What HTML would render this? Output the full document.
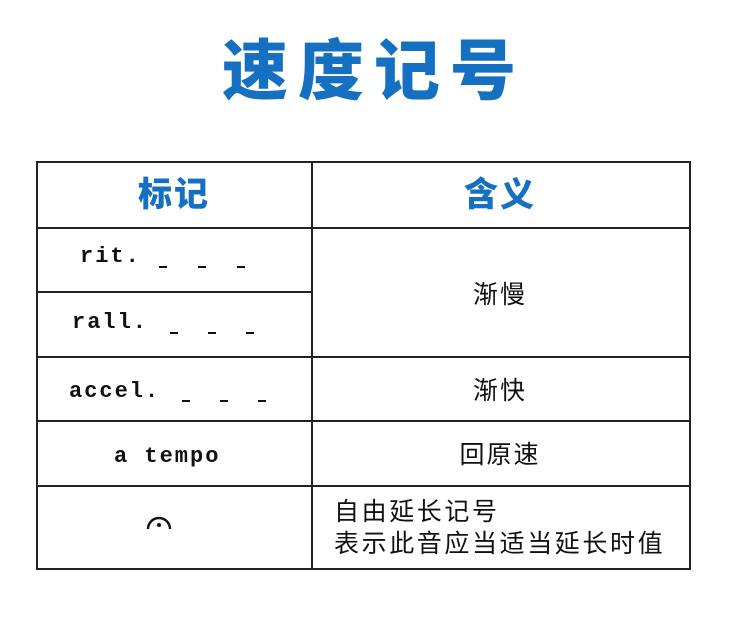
<!DOCTYPE html>
<html><head><meta charset="utf-8"><style>
body{margin:0;width:743px;height:618px;background:#fff;position:relative;overflow:hidden;font-family:"Liberation Sans","Noto Sans CJK SC",sans-serif}
.t{position:absolute;white-space:nowrap}
.title{left:222px;top:26px;font-size:66px;font-weight:900;color:#1670c2;letter-spacing:10px;line-height:80px;font-family:"Noto Sans CJK SC",sans-serif}
.hl{position:absolute;background:#222;height:2px}
.vl{position:absolute;background:#222;width:2px}
.d{position:absolute;background:#111;height:2px;width:8px}
.h{font-size:34px;font-weight:900;color:#1670c2;font-family:"Noto Sans CJK SC",sans-serif;transform:translateX(-50%);line-height:40px;letter-spacing:2px}
.m{font-family:"Liberation Mono",monospace;font-size:22px;font-weight:bold;color:#111;line-height:30px;letter-spacing:2px}
.c{font-size:25px;color:#111;font-family:"Noto Sans CJK SC",sans-serif;transform:translateX(-50%);line-height:30px;letter-spacing:2px}
</style></head><body>
<div class="t title">速度记号</div>
<div class="hl" style="left:36px;top:161px;width:655px"></div>
<div class="hl" style="left:36px;top:227px;width:655px"></div>
<div class="hl" style="left:36px;top:291px;width:277px"></div>
<div class="hl" style="left:36px;top:356px;width:655px"></div>
<div class="hl" style="left:36px;top:420px;width:655px"></div>
<div class="hl" style="left:36px;top:485px;width:655px"></div>
<div class="hl" style="left:36px;top:568px;width:655px"></div>
<div class="vl" style="left:36px;top:161px;height:409px"></div>
<div class="vl" style="left:311px;top:161px;height:409px"></div>
<div class="vl" style="left:689px;top:161px;height:409px"></div>
<div class="t h" style="left:174px;top:172px">标记</div>
<div class="t h" style="left:500px;top:172px">含义</div>
<div class="t m" style="left:80px;top:242px">rit.</div>
<div class="d" style="left:159px;top:266px"></div><div class="d" style="left:198px;top:266px"></div><div class="d" style="left:237px;top:266px"></div>
<div class="t m" style="left:72px;top:308px">rall.</div>
<div class="d" style="left:170px;top:332px"></div><div class="d" style="left:208px;top:332px"></div><div class="d" style="left:246px;top:332px"></div>
<div class="t m" style="left:69px;top:377px">accel.</div>
<div class="d" style="left:182px;top:400px"></div><div class="d" style="left:220px;top:400px"></div><div class="d" style="left:258px;top:400px"></div>
<div class="t m" style="left:114px;top:442px">a tempo</div>
<svg class="t" style="left:144px;top:505px" width="30" height="28"><path d="M4 24 A11 11 0 0 1 26 24" fill="none" stroke="#111" stroke-width="2.4"/><circle cx="15" cy="20" r="2" fill="#111"/></svg>
<div class="t c" style="left:500px;top:278px">渐慢</div>
<div class="t c" style="left:500px;top:374px">渐快</div>
<div class="t c" style="left:500px;top:438px">回原速</div>
<div class="t" style="left:334px;top:494px;font-size:25px;letter-spacing:2.6px;line-height:32px;color:#111;font-family:'Noto Sans CJK SC',sans-serif">自由延长记号<br>表示此音应当适当延长时值</div>
</body></html>
